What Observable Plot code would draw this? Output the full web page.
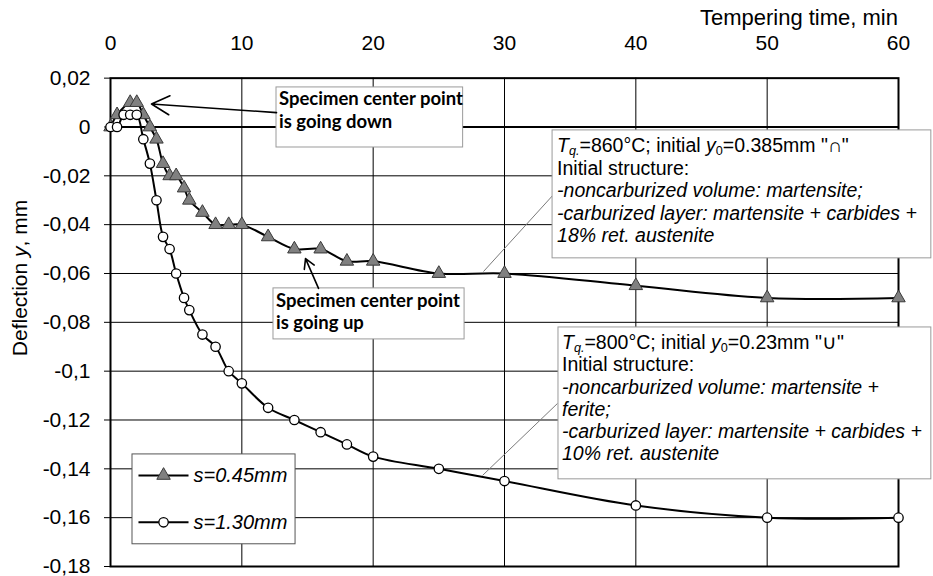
<!DOCTYPE html>
<html><head><meta charset="utf-8">
<script src="https://cdn.jsdelivr.net/npm/d3@7"></script>
<script src="https://cdn.jsdelivr.net/npm/@observablehq/plot@0.6"></script>
<style>body{margin:0;background:#fff} svg{display:block}</style>
</head><body><div id="chart"></div>
<script>
// ---- data ----
const seriesNames = ["s=0.45mm", "s=1.30mm"];
const timeThin = [0, 0.5, 1.5, 2, 2.5, 3, 3.5, 4, 4.5, 5, 5.6, 6, 7, 8, 9, 10, 12, 14, 16, 18, 20, 25, 30, 40, 50, 60];
const deflThin = [0, 0.005, 0.01, 0.01, 0.005, 0, -0.005, -0.015, -0.02, -0.02, -0.025, -0.03, -0.035, -0.04, -0.04, -0.04, -0.045, -0.05, -0.05, -0.055, -0.055, -0.06, -0.06, -0.065, -0.07, -0.07];
const timeThick = [0, 0.5, 1, 1.5, 2, 2.5, 3, 3.5, 4, 4.5, 5, 5.6, 6, 7, 8, 9, 10, 12, 14, 16, 18, 20, 25, 30, 40, 50, 60];
const deflThick = [0, 0, 0.005, 0.005, 0.005, -0.005, -0.015, -0.03, -0.045, -0.05, -0.06, -0.07, -0.075, -0.085, -0.09, -0.1, -0.105, -0.115, -0.12, -0.125, -0.13, -0.135, -0.14, -0.145, -0.155, -0.16, -0.16];
const xTicks = [0, 10, 20, 30, 40, 50, 60];
const yTicks = [0.02, 0, -0.02, -0.04, -0.06, -0.08, -0.1, -0.12, -0.14, -0.16, -0.18];
const xTitle = "Tempering time, min";
const yTitle = [["Deflection ", ""], ["y", "i"], [", mm", ""]];

// annotation texts
const noteDown = [[["Specimen center point", ""]], [["is going down", ""]]];
const noteUp = [[["Specimen center point", ""]], [["is going up", ""]]];
const note860 = [
  [["T", "i"], ["q.", "isub"], ["=860°C; initial ", ""], ["y", "i"], ["0", "sub"], ["=0.385mm \"∩\"", ""]],
  [["Initial structure:", ""]],
  [["-noncarburized volume: martensite;", "i"]],
  [["-carburized layer: martensite + carbides +", "i"]],
  [["18% ret. austenite", "i"]]
];
const note800 = [
  [["T", "i"], ["q.", "isub"], ["=800°C; initial ", ""], ["y", "i"], ["0", "sub"], ["=0.23mm \"∪\"", ""]],
  [["Initial structure:", ""]],
  [["-noncarburized volume: martensite +", "i"]],
  [["ferite;", "i"]],
  [["-carburized layer: martensite + carbides +", "i"]],
  [["10% ret. austenite", "i"]]
];
// annotation anchors in data units (time, deflection)
const boxX1 = [12.64, 12.41, 33.66, 34.11];
const boxX2 = [26.85, 26.96, 62.5, 62.5];
const boxY1 = [0.0162, -0.0661, -0.0014, -0.0821];
const boxY2 = [-0.0084, -0.0870, -0.0538, -0.1443];
const arrowFrom = [[12.64, 0.0059], [15.84, -0.0661]];
const arrowTo = [[3.12, 0.0094], [14.85, -0.0539]];
const leaderFrom = [[33.66, -0.0281], [34.04, -0.1132]];
const leaderTo = [[28.40, -0.0592], [28.33, -0.1427]];
const legendBoxX = [1.675, 14.09];
const legendBoxY = [-0.1341, -0.1709];
const legendRowY = [-0.1427, -0.1619];
const legendLineX = [2.13, 5.94];
const legendMarkX = 4.04;
const legendTextX = 6.32;

// ---- build ----
const FONT = "'Liberation Sans', Arial, sans-serif";
const thin = timeThin.map((t, i) => ({t, y: deflThin[i]}));
const thick = timeThick.map((t, i) => ({t, y: deflThick[i]}));
const fmt = d => d === 0 ? "0" : String(+d.toFixed(2)).replace(".", ",");
const boxes = boxX1.map((x1, i) => ({x1, x2: boxX2[i], y1: boxY1[i], y2: boxY2[i]}));
const arrows = arrowFrom.map((f, i) => ({x1: f[0], y1: f[1], x2: arrowTo[i][0], y2: arrowTo[i][1]}));
const leaders = leaderFrom.map((f, i) => ({x1: f[0], y1: f[1], x2: leaderTo[i][0], y2: leaderTo[i][1]}));
const legendRows = seriesNames.map((name, i) => ({name, y: legendRowY[i], k: i}));

const plot = Plot.plot({
  width: 933, height: 576,
  marginLeft: 110, marginRight: 35, marginTop: 77.65, marginBottom: 10,
  x: {domain: [0, 60], label: null, axis: null},
  y: {domain: [-0.18, 0.02], label: null},
  style: {fontFamily: FONT, fontSize: "21px", color: "#000", background: "#fff", overflow: "visible"},
  marks: [
    Plot.ruleX(xTicks.filter(d => d > 0 && d < 60), {x: d => d, stroke: "#000", strokeWidth: 1}),
    Plot.ruleY(yTicks.filter(d => d < 0 && d > -0.18), {y: d => d, stroke: "#000", strokeWidth: 1}),
    Plot.ruleY([0], {stroke: "#000", strokeWidth: 2}),
    Plot.frame({stroke: "#000", strokeWidth: 2}),
    Plot.axisY({ticks: yTicks, tickSize: 6, tickPadding: 14, tickFormat: fmt, label: null, fontSize: 21}),
    Plot.text(xTicks, {x: d => d, frameAnchor: "top", dy: -43, text: d => String(d), fontSize: 21}),
    Plot.line(thin, {x: "t", y: "y", curve: "catmull-rom", stroke: "#000", strokeWidth: 2}),
    Plot.dot(thin, {x: "t", y: "y", symbol: "triangle", r: 5, fill: "#808080", stroke: "#3a3a3a", strokeWidth: 1}),
    Plot.line(thick, {x: "t", y: "y", curve: "catmull-rom", stroke: "#000", strokeWidth: 2}),
    Plot.dot(thick, {x: "t", y: "y", r: 4.7, fill: "#fff", stroke: "#000", strokeWidth: 1.3}),
    Plot.link(leaders, {x1: "x1", y1: "y1", x2: "x2", y2: "y2", stroke: "#7a7a7a", strokeWidth: 1}),
    Plot.rect(boxes, {x1: "x1", x2: "x2", y1: "y1", y2: "y2", fill: "#fff", stroke: "#9a9a9a", strokeWidth: 1}),
    Plot.arrow(arrows.slice(0, 1), {x1: "x1", y1: "y1", x2: "x2", y2: "y2", stroke: "#000", strokeWidth: 1.6, headLength: 19, headAngle: 56}),
    Plot.arrow(arrows.slice(1), {x1: "x1", y1: "y1", x2: "x2", y2: "y2", stroke: "#000", strokeWidth: 1.6, headLength: 16, headAngle: 60}),
    Plot.rect([0], {x1: legendBoxX[0], x2: legendBoxX[1], y1: legendBoxY[0], y2: legendBoxY[1], fill: "#fff", stroke: "#555", strokeWidth: 1}),
    Plot.link(legendRows, {x1: legendLineX[0], x2: legendLineX[1], y1: "y", y2: "y", stroke: "#000", strokeWidth: 2}),
    Plot.dot(legendRows.filter(d => d.k === 0), {x: legendMarkX, y: "y", symbol: "triangle", r: 5, fill: "#808080", stroke: "#3a3a3a", strokeWidth: 1}),
    Plot.dot(legendRows.filter(d => d.k === 1), {x: legendMarkX, y: "y", r: 4.7, fill: "#fff", stroke: "#000", strokeWidth: 1.3}),
    Plot.text(legendRows, {x: legendTextX, y: "y", text: "name", textAnchor: "start", fontStyle: "italic", fontSize: 20})
  ]
});
document.getElementById("chart").appendChild(plot);

// ---- rich text overlay (positions through the plot's scales) ----
const X = plot.scale("x").apply, Y = plot.scale("y").apply;
const svg = d3.select(plot);
function writeLines(x0, y0, step, lines, size, family, weight) {
  lines.forEach((segs, k) => {
    const t = svg.append("text").attr("x", x0).attr("y", y0 + k * step).attr("text-anchor", "start")
      .attr("font-size", size).attr("font-family", family).attr("font-weight", weight).attr("fill", "#000");
    let shift = 0;
    segs.forEach(([s, st]) => {
      const sub = st === "sub" || st === "isub";
      const ital = st === "i" || st === "isub";
      const ts = t.append("tspan").text(s);
      if (ital) ts.attr("font-style", "italic");
      const want = sub ? 3 : 0;
      if (want !== shift) { ts.attr("dy", want - shift); shift = want; }
      if (sub) ts.attr("font-size", size * 0.65);
    });
  });
}
const BOLD = "Lato, 'Open Sans', sans-serif";
writeLines(X(boxX1[0]) + 3, Y(boxY1[0]) + 18, 23, noteDown, 18.5, BOLD, 700);
writeLines(X(boxX1[1]) + 3, Y(boxY1[1]) + 19.5, 21.5, noteUp, 18.5, BOLD, 700);
writeLines(X(boxX1[2]) + 5, Y(boxY1[2]) + 22, 22.6, note860, 19.5, FONT, 400);
writeLines(X(boxX1[3]) + 4, Y(boxY1[3]) + 22, 22.3, note800, 19.5, FONT, 400);

svg.append("text").attr("x", X(60)).attr("y", 25).attr("text-anchor", "end")
  .attr("font-size", 22).attr("font-family", FONT).attr("fill", "#000").text(xTitle);

const yt = svg.append("text").attr("transform", "translate(20,278) rotate(-90)")
  .attr("text-anchor", "middle").attr("dy", "0.35em")
  .attr("font-size", 21).attr("font-family", FONT).attr("fill", "#000");
yTitle.forEach(([s, st]) => { const ts = yt.append("tspan").text(s); if (st === "i") ts.attr("font-style", "italic"); });
</script>
</body></html>
